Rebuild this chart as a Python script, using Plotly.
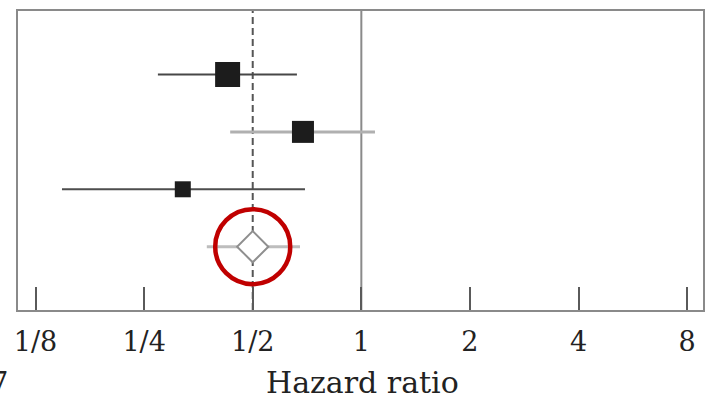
import plotly.graph_objects as go

# ---- data ----
rows = [4, 3, 2]                     # study rows (top to bottom)
hr = [0.426, 0.689, 0.320]           # hazard ratio point estimates
ci_low = [0.273, 0.433, 0.148]
ci_high = [0.663, 1.091, 0.698]
box_size = [25, 22, 16]              # weight-proportional square sizes

pooled_row = 1
pooled_hr = 0.50
pooled_low = 0.373
pooled_high = 0.676

tick_vals = [0.125, 0.25, 0.5, 1, 2, 4, 8]
tick_text = ["1/8", "1/4", "1/2", "1", "2", "4", "8"]

# ---- styles ----
ci_colors = ["#474747", "#b0b0b0", "#4d4d4d"]
ci_widths = [2, 3, 2]
x_range_log = [-0.9516, 0.947]
y_range = [-0.103, 5.106]
serif = "DejaVu Serif"
text_color = "#222222"

fig = go.Figure()

# reference lines
fig.add_trace(go.Scatter(x=[1, 1], y=y_range, mode="lines",
                         line=dict(color="#8a8a8a", width=2), hoverinfo="skip"))
fig.add_trace(go.Scatter(x=[pooled_hr, pooled_hr], y=y_range, mode="lines",
                         line=dict(color="#555555", width=2, dash="7px,4px"),
                         hoverinfo="skip"))

# confidence intervals
for r, lo, hi, c, w in zip(rows, ci_low, ci_high, ci_colors, ci_widths):
    fig.add_trace(go.Scatter(x=[lo, hi], y=[r, r], mode="lines",
                             line=dict(color=c, width=w)))
fig.add_trace(go.Scatter(x=[pooled_low, pooled_high], y=[pooled_row, pooled_row],
                         mode="lines", line=dict(color="#bdbdbd", width=3)))

# squares
fig.add_trace(go.Scatter(x=hr, y=rows, mode="markers",
                         marker=dict(symbol="square", size=box_size, color="#1c1c1c",
                                     opacity=1, line=dict(width=0))))
# pooled diamond
fig.add_trace(go.Scatter(x=[pooled_hr], y=[pooled_row], mode="markers",
                         marker=dict(symbol="diamond", size=24, color="white",
                                     opacity=1, line=dict(color="#8f8f8f", width=2))))
# red highlight circle
fig.add_trace(go.Scatter(x=[pooled_hr], y=[pooled_row], mode="markers",
                         marker=dict(symbol="circle-open", size=75, color="#c00000",
                                     opacity=1, line=dict(color="#c00000", width=4.5))))

fig.update_layout(
    width=706, height=401,
    margin=dict(l=18, r=3, t=11, b=91, autoexpand=False),
    paper_bgcolor="white", plot_bgcolor="white",
    showlegend=False,
    font=dict(family=serif, color=text_color),
    xaxis=dict(type="log", range=x_range_log, tickvals=tick_vals, ticktext=tick_text,
               automargin=False,
               ticks="inside", ticklen=23, tickwidth=2, tickcolor="#5a5a5a",
               showgrid=False, zeroline=False, showline=True, linecolor="#8a8a8a",
               linewidth=2, mirror=True, ticklabelstandoff=7,
               tickfont=dict(family=serif, size=27, color=text_color)),
    yaxis=dict(range=y_range, showticklabels=False, ticks="", showgrid=False,
               automargin=False,
               zeroline=False, showline=True, linecolor="#8a8a8a", linewidth=2,
               mirror=True),
    annotations=[
        dict(text="Hazard ratio", xref="paper", yref="paper", x=0.5036, y=-0.243,
             xanchor="center", yanchor="middle", showarrow=False, borderpad=0,
             font=dict(family=serif, size=30, color=text_color)),
        dict(text="7", xref="paper", yref="paper", x=-0.0131, y=-0.243,
             xanchor="right", yanchor="middle", showarrow=False, borderpad=0,
             font=dict(family=serif, size=29, color=text_color)),
    ],
)

page_fix = (
    "document.body.style.margin='0';"
    "document.body.style.overflow='hidden';"
    "document.documentElement.style.overflow='hidden';"
)

fig.write_html("out.html", post_script=page_fix,
               config={"displayModeBar": False})
